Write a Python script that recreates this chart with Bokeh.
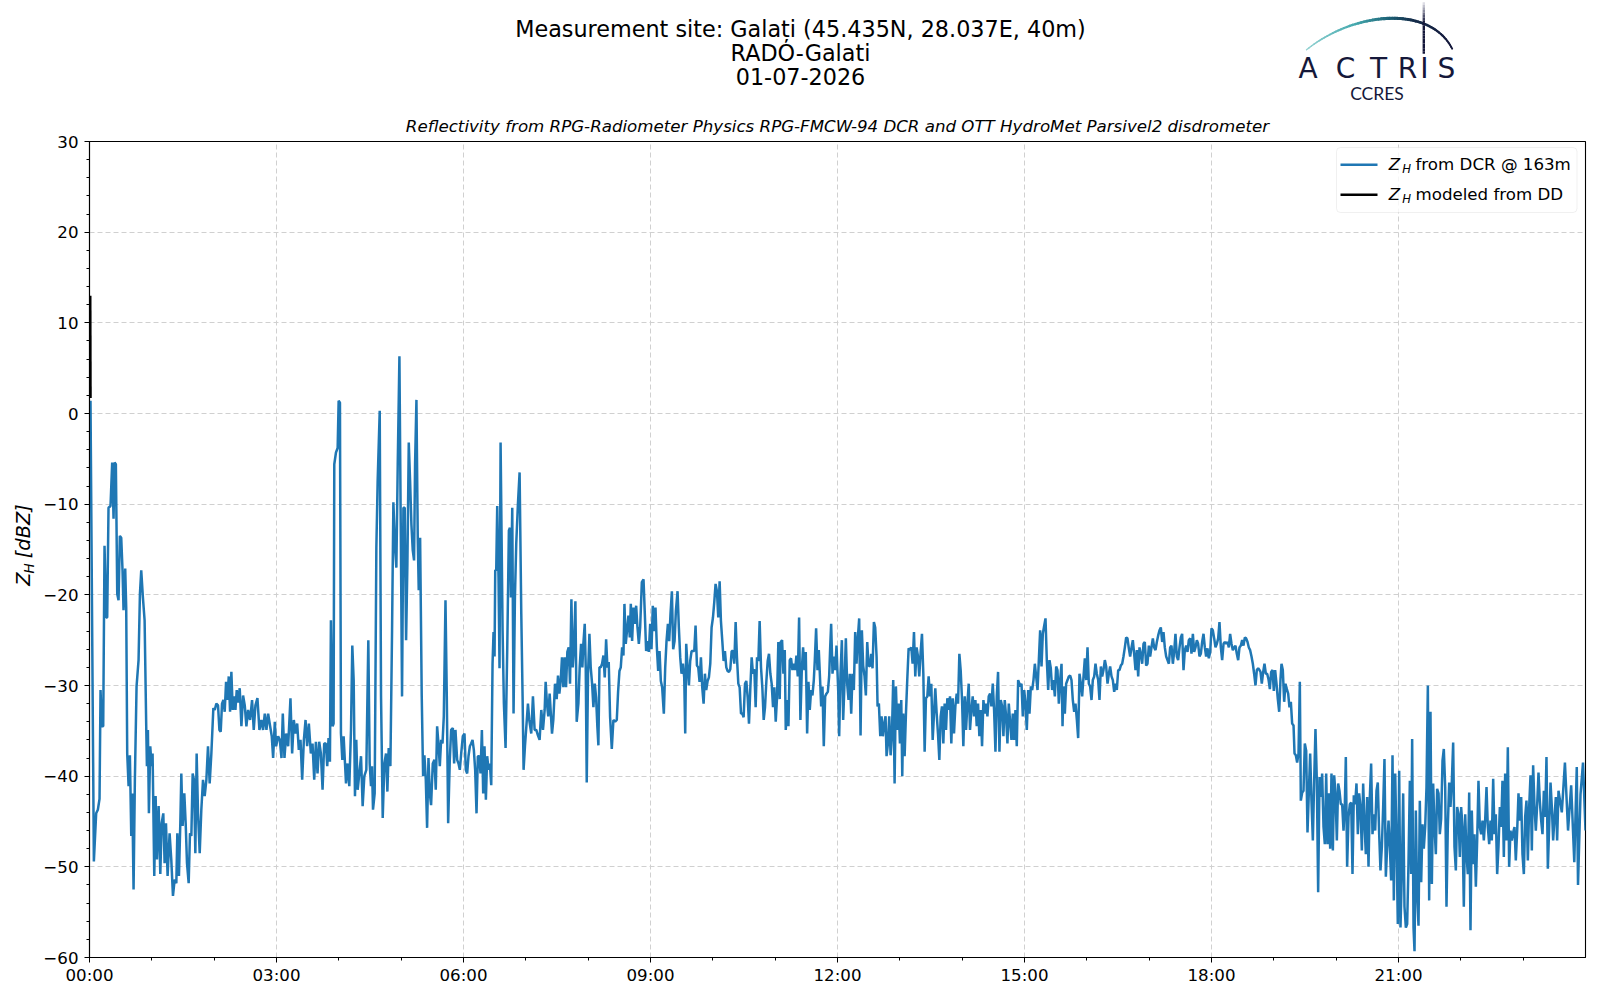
import numpy as np
from math import pi
from bokeh.plotting import figure
from bokeh.models import Range1d, FixedTicker, Label, BoxAnnotation
from bokeh.layouts import column, row
from bokeh.embed import file_html
from bokeh.resources import INLINE
from bokeh.core.properties import value

FONT = "DejaVu Sans"
NAVY = "#15183a"
BLUE = "#1f77b4"

title_lines = ["Measurement site: Galați (45.435N, 28.037E, 40m)", "RADO-Galati", "01-07-2026"]
subtitle = "Reflectivity from RPG-Radiometer Physics RPG-FMCW-94 DCR and OTT HydroMet Parsivel2 disdrometer"
legend_labels = ["from DCR @ 163m", "modeled from DD"]

x_major = [0, 3, 6, 9, 12, 15, 18, 21]
x_minor = [1, 2, 4, 5, 7, 8, 10, 11, 13, 14, 16, 17, 19, 20, 22, 23]
x_tick_labels = ["00:00", "03:00", "06:00", "09:00", "12:00", "15:00", "18:00", "21:00"]
y_major = [-60, -50, -40, -30, -20, -10, 0, 10, 20, 30]
y_minor = [v for v in range(-60, 31, 2) if v % 10 != 0]

# Z_H modeled from disdrometer (hours, dBZ)
dd_time = [0.012, 0.016]
dd_zh = [13.0, 1.7]

# Z_H from DCR @ 163m: (hours, dBZ)
dcr_00_04 = [(0.016,1.4),(0.070,-49.4),(0.107,-44.1),(0.134,-43.7),(0.161,-42.5),(0.177,-30.5),(0.198,-34.5),(0.220,-34.5),(0.241,-14.6),(0.268,-22.5),(0.284,-22.5),(0.305,-10.4),(0.337,-10.2),(0.364,-5.4),(0.386,-11.6),(0.402,-5.4),(0.423,-5.6),(0.445,-19.9),(0.466,-20.6),(0.487,-13.5),(0.509,-13.7),(0.530,-17.3),(0.546,-21.7),(0.573,-17.1),(0.589,-21.4),(0.605,-37.5),(0.627,-41.1),(0.648,-37.7),(0.670,-46.6),(0.686,-41.9),(0.707,-52.5),(0.728,-40.4),(0.755,-30.1),(0.787,-27.2),(0.809,-19.9),(0.830,-17.3),(0.857,-20.3),(0.884,-22.8),(0.911,-34.9),(0.921,-38.9),(0.937,-34.9),(0.953,-44.1),(0.975,-36.7),(0.996,-38.9),(1.012,-37.5),(1.039,-51.0),(1.061,-42.2),(1.082,-49.2),(1.109,-43.3),(1.136,-50.8),(1.157,-45.2),(1.184,-44.1),(1.205,-49.6),(1.227,-45.2),(1.253,-51.0),(1.285,-46.3),(1.312,-49.2),(1.339,-53.2),(1.366,-51.4),(1.393,-51.8),(1.409,-46.3),(1.435,-51.0),(1.457,-45.2),(1.473,-39.7),(1.494,-45.5),(1.521,-41.9),(1.543,-45.2),(1.564,-49.6),(1.591,-51.8),(1.612,-46.3),(1.634,-46.6),(1.655,-39.7),(1.676,-40.4),(1.698,-48.5),(1.719,-37.5),(1.741,-44.1),(1.768,-48.5),(1.794,-43.7),(1.821,-40.4),(1.848,-42.2),(1.875,-40.4),(1.901,-36.7),(1.928,-40.8),(1.955,-37.5),(1.987,-32.5),(2.009,-32.7),(2.035,-32.0),(2.062,-32.2),(2.084,-34.9),(2.105,-35.1),(2.126,-32.0),(2.148,-31.6),(2.169,-32.9),(2.191,-29.6),(2.212,-31.6),(2.234,-29.0),(2.255,-32.9),(2.276,-28.5),(2.298,-32.7),(2.319,-31.2),(2.341,-32.7),(2.362,-30.5),(2.384,-31.9),(2.410,-30.3),(2.437,-34.5),(2.464,-31.1),(2.491,-32.2),(2.517,-34.5),(2.544,-32.7),(2.576,-33.8),(2.608,-31.6),(2.635,-34.9),(2.662,-32.2),(2.694,-31.4),(2.726,-34.9),(2.758,-33.8),(2.785,-34.9),(2.812,-33.1),(2.839,-34.9),(2.866,-33.1),(2.898,-34.5),(2.924,-35.6),(2.946,-38.0),(2.973,-34.0),(2.994,-36.7),(3.026,-35.6),(3.053,-36.0),(3.080,-38.0),(3.101,-33.1),(3.128,-38.0),(3.155,-35.3),(3.187,-36.7),(3.224,-31.4),(3.251,-37.5),(3.278,-33.8),(3.305,-35.3),(3.332,-34.2),(3.358,-37.1),(3.385,-36.0),(3.412,-40.4),(3.439,-36.0),(3.466,-33.8),(3.492,-36.7),(3.519,-34.2),(3.551,-37.5),(3.578,-36.4),(3.605,-40.4),(3.632,-36.2),(3.658,-39.7),(3.685,-36.2),(3.712,-37.5),(3.739,-41.5),(3.765,-36.4),(3.792,-36.4),(3.814,-38.9),(3.835,-35.8),(3.857,-38.4),(3.873,-22.8)]

dcr_04_07 = [(3.900,-34.5),(3.916,-34.2),(3.927,-5.6),(3.954,-4.3),(3.981,-3.8),(3.997,1.4),(4.018,1.2),(4.034,-35.3),(4.056,-38.2),(4.077,-35.6),(4.099,-38.6),(4.115,-40.8),(4.141,-38.6),(4.168,-41.1),(4.195,-34.9),(4.216,-25.6),(4.238,-29.4),(4.259,-42.2),(4.280,-36.0),(4.302,-41.5),(4.329,-39.7),(4.356,-37.8),(4.382,-43.3),(4.409,-40.0),(4.441,-39.3),(4.473,-25.0),(4.495,-38.6),(4.516,-41.1),(4.532,-38.9),(4.548,-43.7),(4.575,-41.9),(4.602,-14.8),(4.623,-7.4),(4.656,0.3),(4.677,-31.2),(4.704,-44.6),(4.731,-38.6),(4.757,-37.5),(4.779,-41.7),(4.800,-36.9),(4.827,-38.9),(4.854,-23.9),(4.875,-9.8),(4.902,-14.8),(4.923,-17.0),(4.945,-5.6),(4.972,6.3),(4.998,-16.6),(5.014,-31.2),(5.036,-10.4),(5.057,-10.4),(5.079,-25.0),(5.100,-16.6),(5.122,-3.2),(5.143,-7.4),(5.164,-12.2),(5.186,-15.1),(5.207,-16.2),(5.223,-5.6),(5.245,1.5),(5.266,-13.7),(5.282,-19.5),(5.304,-13.7),(5.330,-31.2),(5.352,-40.0),(5.373,-37.7),(5.395,-40.4),(5.416,-45.7),(5.438,-38.0),(5.459,-41.9),(5.480,-43.2),(5.507,-38.6),(5.534,-38.2),(5.555,-41.5),(5.577,-34.5),(5.598,-36.4),(5.620,-38.9),(5.641,-36.0),(5.663,-36.4),(5.684,-33.4),(5.711,-20.6),(5.732,-31.2),(5.754,-45.2),(5.780,-38.2),(5.802,-34.9),(5.829,-34.7),(5.850,-38.6),(5.871,-34.9),(5.898,-38.2),(5.920,-38.6),(5.941,-39.3),(5.963,-37.5),(5.989,-35.6),(6.016,-35.3),(6.037,-39.3),(6.059,-39.7),(6.080,-37.8),(6.102,-36.7),(6.123,-36.4),(6.145,-36.0),(6.166,-37.1),(6.187,-39.3),(6.209,-44.1),(6.230,-37.8),(6.252,-37.8),(6.273,-39.7),(6.295,-34.9),(6.316,-41.9),(6.337,-36.7),(6.359,-42.6),(6.380,-37.8),(6.402,-39.3),(6.423,-38.6),(6.445,-41.0),(6.466,-27.6),(6.482,-24.1),(6.498,-26.8),(6.509,-17.3),(6.525,-17.3),(6.541,-10.2),(6.562,-18.1),(6.578,-28.1),(6.595,-3.2),(6.627,-23.9),(6.648,-32.0),(6.675,-36.9),(6.702,-25.8),(6.728,-12.9),(6.745,-12.6),(6.761,-20.3),(6.782,-10.4),(6.803,-33.1),(6.825,-20.3),(6.846,-14.4),(6.873,-10.0),(6.900,-6.5),(6.927,-22.1),(6.948,-31.2),(6.964,-39.3),(6.986,-36.7),(7.034,-32.0),(7.055,-33.8),(7.087,-35.3),(7.114,-31.2),(7.141,-34.9),(7.168,-34.9),(7.194,-35.5),(7.221,-36.0),(7.248,-32.7),(7.275,-34.9),(7.302,-32.7),(7.318,-29.6),(7.339,-32.0),(7.360,-33.4),(7.382,-30.9)]

dcr_07_11 = [(7.420,-35.3),(7.441,-33.8),(7.468,-29.8),(7.495,-31.5),(7.516,-28.9),(7.538,-30.9),(7.559,-29.5),(7.580,-26.9),(7.602,-30.2),(7.623,-26.9),(7.645,-30.2),(7.666,-26.3),(7.688,-25.8),(7.709,-29.8),(7.731,-20.5),(7.752,-28.0),(7.773,-25.8),(7.795,-20.7),(7.816,-34.0),(7.843,-32.0),(7.864,-28.0),(7.886,-25.4),(7.907,-28.0),(7.923,-25.4),(7.945,-23.2),(7.961,-28.0),(7.977,-40.7),(7.998,-28.7),(8.020,-24.3),(8.041,-28.0),(8.063,-29.8),(8.084,-32.4),(8.106,-29.8),(8.127,-31.3),(8.148,-34.6),(8.164,-36.6),(8.181,-28.0),(8.202,-28.0),(8.223,-27.6),(8.245,-26.7),(8.266,-29.1),(8.288,-24.9),(8.309,-28.0),(8.330,-27.4),(8.352,-33.5),(8.379,-37.0),(8.405,-33.8),(8.432,-34.0),(8.459,-33.8),(8.480,-30.7),(8.502,-28.4),(8.523,-28.0),(8.545,-25.8),(8.566,-26.7),(8.582,-21.0),(8.603,-25.4),(8.625,-23.8),(8.646,-22.3),(8.668,-24.7),(8.684,-21.0),(8.705,-25.1),(8.727,-21.4),(8.748,-23.2),(8.770,-21.2),(8.791,-23.6),(8.813,-25.4),(8.834,-23.6),(8.861,-18.6),(8.888,-18.3),(8.909,-22.1),(8.930,-26.2),(8.952,-25.1),(8.973,-26.3),(8.995,-23.2),(9.016,-26.0),(9.037,-21.2),(9.059,-24.0),(9.080,-21.4),(9.102,-25.8),(9.123,-28.4),(9.145,-26.2),(9.166,-29.5),(9.187,-30.2),(9.214,-33.1),(9.236,-28.0),(9.257,-25.1),(9.279,-23.2),(9.300,-25.1),(9.321,-22.1),(9.343,-19.6),(9.364,-26.0),(9.386,-25.1),(9.407,-21.8),(9.434,-19.6),(9.455,-23.6),(9.477,-26.9),(9.498,-28.7),(9.520,-27.6),(9.541,-29.1),(9.557,-35.3),(9.573,-25.4),(9.595,-28.0),(9.616,-30.0),(9.637,-27.3),(9.659,-26.2),(9.680,-26.2),(9.702,-26.2),(9.723,-23.4),(9.745,-27.8),(9.766,-28.0),(9.787,-29.6),(9.809,-26.9),(9.830,-30.2),(9.852,-32.0),(9.873,-28.7),(9.894,-30.5),(9.916,-29.5),(9.937,-29.1),(9.959,-27.6),(9.980,-23.6),(10.002,-22.5),(10.023,-20.8),(10.044,-18.8),(10.066,-19.6),(10.087,-22.5),(10.109,-18.5),(10.130,-22.9),(10.152,-25.1),(10.173,-27.3),(10.194,-26.2),(10.216,-28.0),(10.237,-28.4),(10.259,-28.5),(10.280,-28.2),(10.302,-26.2),(10.323,-26.2),(10.344,-27.6),(10.366,-23.0),(10.387,-26.9),(10.409,-29.8),(10.430,-30.2),(10.452,-33.1),(10.473,-33.1),(10.494,-33.5),(10.516,-29.8),(10.537,-29.5),(10.559,-31.3),(10.580,-34.2),(10.602,-30.2),(10.623,-26.9),(10.644,-28.7),(10.666,-28.2),(10.687,-32.4),(10.709,-26.9),(10.730,-27.3),(10.751,-22.9),(10.773,-28.0),(10.794,-30.2),(10.816,-33.8),(10.837,-32.4),(10.859,-29.5),(10.880,-27.3),(10.901,-26.5),(10.923,-28.7),(10.944,-29.8),(10.966,-32.4),(10.987,-30.2),(11.009,-34.0),(11.030,-31.3),(11.051,-25.2),(11.073,-31.5)]

dcr_11_15 = [(11.089,-25.2),(11.111,-25.0),(11.132,-28.7),(11.154,-26.1),(11.170,-34.9),(11.191,-31.6),(11.213,-34.5),(11.234,-27.2),(11.255,-27.0),(11.277,-28.3),(11.298,-27.6),(11.320,-28.3),(11.341,-26.7),(11.363,-29.0),(11.384,-22.5),(11.405,-33.8),(11.427,-28.3),(11.448,-25.8),(11.470,-28.3),(11.491,-26.3),(11.513,-35.3),(11.534,-29.6),(11.555,-32.7),(11.577,-30.5),(11.598,-31.1),(11.620,-29.4),(11.636,-27.2),(11.657,-23.7),(11.679,-28.3),(11.700,-26.1),(11.721,-29.4),(11.738,-32.3),(11.759,-30.1),(11.780,-36.7),(11.802,-31.2),(11.823,-30.9),(11.845,-30.7),(11.866,-29.0),(11.882,-25.9),(11.898,-23.2),(11.920,-28.7),(11.941,-26.8),(11.963,-28.3),(11.984,-25.6),(12.011,-30.5),(12.027,-35.6),(12.048,-28.7),(12.070,-25.0),(12.091,-33.8),(12.112,-29.8),(12.134,-24.8),(12.155,-29.8),(12.177,-31.6),(12.198,-28.7),(12.220,-33.1),(12.241,-28.7),(12.262,-30.5),(12.284,-24.1),(12.305,-27.6),(12.327,-24.7),(12.348,-22.6),(12.370,-35.5),(12.391,-23.9),(12.412,-27.8),(12.434,-29.0),(12.455,-31.1),(12.477,-25.2),(12.498,-27.8),(12.520,-27.9),(12.541,-26.5),(12.562,-28.1),(12.584,-23.0),(12.605,-23.6),(12.627,-26.8),(12.643,-32.3),(12.664,-32.0),(12.686,-35.6),(12.707,-33.4),(12.728,-35.6),(12.750,-34.2),(12.771,-33.4),(12.787,-37.8),(12.809,-36.4),(12.830,-33.4),(12.852,-37.7),(12.873,-35.3),(12.894,-29.4),(12.916,-40.8),(12.937,-30.1),(12.959,-34.9),(12.980,-32.0),(13.002,-36.4),(13.023,-31.6),(13.039,-40.0),(13.055,-33.1),(13.077,-37.8),(13.098,-33.1),(13.119,-29.4),(13.141,-25.9),(13.162,-26.1),(13.184,-25.8),(13.205,-27.6),(13.227,-24.1),(13.248,-29.0),(13.269,-25.8),(13.291,-26.8),(13.312,-29.0),(13.334,-26.3),(13.355,-24.3),(13.377,-28.7),(13.398,-37.3),(13.419,-31.4),(13.441,-31.2),(13.462,-29.0),(13.484,-31.2),(13.505,-29.8),(13.527,-36.0),(13.548,-33.1),(13.569,-30.3),(13.591,-33.1),(13.612,-35.3),(13.634,-38.2),(13.655,-33.4),(13.676,-32.3),(13.698,-36.4),(13.719,-32.0),(13.741,-34.9),(13.762,-31.4),(13.784,-32.7),(13.805,-31.2),(13.826,-36.4),(13.848,-31.4),(13.869,-35.3),(13.891,-32.3),(13.912,-30.9),(13.934,-32.0),(13.955,-26.5),(13.976,-28.3),(13.998,-31.6),(14.019,-36.7),(14.041,-31.2),(14.062,-34.9),(14.084,-32.0),(14.105,-29.8),(14.126,-34.9),(14.148,-32.7),(14.169,-31.2),(14.191,-33.4),(14.212,-31.6),(14.234,-34.5),(14.255,-32.0),(14.276,-35.6),(14.298,-32.7),(14.319,-36.7),(14.341,-31.6),(14.362,-33.1),(14.384,-32.0),(14.405,-33.4),(14.426,-31.2),(14.448,-30.9),(14.469,-32.3),(14.491,-29.8),(14.512,-32.7),(14.534,-37.3),(14.555,-31.2),(14.576,-28.5),(14.598,-37.3),(14.619,-31.6),(14.641,-32.3),(14.662,-35.6),(14.683,-31.6),(14.705,-33.4),(14.726,-36.4),(14.748,-32.0),(14.769,-34.0),(14.791,-36.0),(14.812,-33.1),(14.833,-36.0),(14.855,-32.7),(14.876,-36.7),(14.898,-29.4),(14.919,-29.8)]

dcr_15_19 = [(14.930,-30.1),(14.952,-29.8),(14.973,-33.4),(14.995,-30.5),(15.016,-32.0),(15.037,-34.9),(15.059,-30.5),(15.080,-33.1),(15.102,-30.1),(15.123,-30.5),(15.144,-29.4),(15.166,-27.6),(15.187,-29.0),(15.209,-30.5),(15.230,-27.2),(15.251,-23.9),(15.273,-27.9),(15.294,-24.3),(15.316,-23.4),(15.337,-22.6),(15.358,-27.2),(15.380,-30.5),(15.401,-27.2),(15.422,-28.1),(15.444,-30.5),(15.465,-29.4),(15.487,-31.2),(15.508,-27.9),(15.529,-28.3),(15.551,-32.0),(15.572,-29.4),(15.594,-27.6),(15.610,-34.5),(15.626,-30.1),(15.647,-33.1),(15.668,-29.8),(15.690,-29.4),(15.711,-29.0),(15.733,-28.9),(15.754,-29.4),(15.775,-31.6),(15.797,-32.9),(15.818,-32.0),(15.840,-33.8),(15.861,-35.8),(15.882,-28.7),(15.904,-29.8),(15.925,-31.2),(15.947,-29.0),(15.968,-27.0),(15.989,-29.4),(16.011,-25.8),(16.032,-29.8),(16.053,-30.1),(16.075,-31.6),(16.096,-29.4),(16.118,-29.0),(16.139,-27.6),(16.160,-28.7),(16.182,-29.4),(16.203,-31.6),(16.225,-27.9),(16.246,-29.0),(16.267,-28.3),(16.289,-27.2),(16.310,-27.9),(16.332,-29.8),(16.353,-28.7),(16.374,-27.9),(16.396,-29.0),(16.417,-29.4),(16.439,-30.7),(16.460,-29.8),(16.481,-30.5),(16.503,-28.3),(16.524,-28.3),(16.545,-27.8),(16.567,-27.6),(16.588,-26.8),(16.610,-25.8),(16.631,-24.7),(16.652,-24.8),(16.674,-25.9),(16.695,-26.8),(16.717,-25.8),(16.738,-25.0),(16.759,-26.5),(16.781,-28.3),(16.802,-26.1),(16.824,-29.0),(16.845,-25.8),(16.866,-26.5),(16.888,-27.6),(16.909,-25.4),(16.930,-25.2),(16.952,-27.8),(16.973,-27.6),(16.995,-25.6),(17.016,-26.8),(17.037,-25.8),(17.059,-24.8),(17.080,-25.8),(17.102,-26.1),(17.123,-25.2),(17.144,-24.5),(17.166,-23.9),(17.187,-23.6),(17.209,-25.2),(17.230,-24.1),(17.251,-25.8),(17.273,-26.8),(17.294,-27.2),(17.316,-27.6),(17.337,-25.8),(17.358,-25.6),(17.380,-27.6),(17.401,-26.3),(17.422,-24.3),(17.444,-26.8),(17.465,-27.2),(17.487,-25.8),(17.508,-24.7),(17.529,-24.3),(17.551,-28.3),(17.572,-26.1),(17.594,-25.6),(17.615,-26.3),(17.636,-25.0),(17.658,-24.8),(17.679,-26.5),(17.701,-24.3),(17.722,-26.3),(17.743,-25.8),(17.765,-25.0),(17.786,-25.4),(17.807,-26.8),(17.829,-26.5),(17.850,-25.2),(17.872,-24.3),(17.893,-25.8),(17.914,-26.8),(17.936,-25.9),(17.957,-27.0),(17.979,-26.3),(18.000,-23.7),(18.021,-23.9),(18.043,-24.8),(18.064,-25.8),(18.086,-25.4),(18.107,-24.8),(18.128,-23.0),(18.150,-25.8),(18.171,-27.2),(18.193,-25.4),(18.214,-25.2),(18.235,-25.4),(18.257,-25.2),(18.278,-25.8),(18.299,-24.3),(18.321,-25.4),(18.342,-26.1),(18.364,-25.8),(18.385,-25.6),(18.406,-26.5),(18.428,-27.2),(18.449,-25.8),(18.471,-25.6),(18.492,-25.0),(18.513,-25.6),(18.535,-24.7),(18.556,-24.8),(18.578,-25.2),(18.599,-25.8),(18.620,-26.1),(18.642,-26.8),(18.663,-27.6),(18.684,-28.7),(18.706,-30.0),(18.727,-28.3),(18.749,-28.1),(18.770,-28.3)]

dcr_19_24 = [(18.786,-28.5),(18.807,-29.8),(18.829,-28.5),(18.850,-27.6),(18.872,-28.7),(18.893,-28.7),(18.914,-29.3),(18.936,-30.4),(18.957,-28.5),(18.979,-28.3),(19.000,-30.6),(19.021,-28.3),(19.043,-29.8),(19.064,-31.5),(19.086,-32.9),(19.107,-29.3),(19.123,-27.6),(19.144,-28.3),(19.166,-31.8),(19.187,-29.8),(19.209,-30.4),(19.230,-30.9),(19.251,-32.4),(19.273,-31.8),(19.294,-34.2),(19.316,-34.4),(19.332,-37.5),(19.353,-37.7),(19.374,-38.5),(19.396,-37.5),(19.417,-29.6),(19.433,-42.7),(19.455,-41.8),(19.476,-41.6),(19.497,-36.4),(19.519,-37.2),(19.540,-46.2),(19.561,-41.9),(19.583,-37.5),(19.604,-42.7),(19.626,-47.1),(19.647,-40.5),(19.668,-34.8),(19.690,-40.5),(19.711,-52.8),(19.733,-40.1),(19.754,-42.3),(19.775,-39.7),(19.797,-45.6),(19.818,-47.5),(19.840,-39.7),(19.861,-47.5),(19.882,-41.9),(19.904,-48.0),(19.925,-39.7),(19.947,-48.2),(19.968,-39.9),(19.989,-41.9),(20.011,-47.1),(20.032,-40.8),(20.053,-41.6),(20.075,-43.1),(20.096,-43.1),(20.118,-46.0),(20.139,-43.2),(20.155,-37.9),(20.176,-50.0),(20.198,-44.5),(20.219,-43.1),(20.241,-42.9),(20.262,-50.8),(20.283,-42.1),(20.305,-43.1),(20.326,-40.8),(20.348,-46.4),(20.369,-41.9),(20.390,-43.4),(20.412,-48.2),(20.433,-40.8),(20.455,-45.3),(20.476,-48.6),(20.497,-42.3),(20.519,-50.0),(20.540,-42.3),(20.561,-38.6),(20.583,-46.4),(20.604,-44.2),(20.626,-46.0),(20.647,-41.6),(20.668,-40.7),(20.690,-46.4),(20.711,-50.4),(20.733,-47.8),(20.754,-43.4),(20.775,-38.1),(20.797,-51.1),(20.818,-47.8),(20.840,-44.9),(20.861,-47.8),(20.882,-51.5),(20.904,-37.7),(20.925,-53.7),(20.947,-39.7),(20.968,-47.1),(20.989,-56.3),(21.011,-39.4),(21.032,-56.7),(21.053,-50.8),(21.075,-41.9),(21.096,-54.4),(21.118,-56.7),(21.139,-56.3),(21.160,-49.7),(21.182,-40.5),(21.203,-50.8),(21.219,-35.9),(21.241,-56.7),(21.257,-59.3),(21.278,-43.8),(21.299,-53.0),(21.321,-56.5),(21.342,-42.7),(21.364,-51.7),(21.385,-45.3),(21.406,-48.0),(21.428,-45.6),(21.449,-41.2),(21.471,-30.0),(21.492,-53.7),(21.513,-32.9),(21.535,-51.9),(21.556,-40.8),(21.578,-45.6),(21.599,-48.6),(21.620,-41.4),(21.642,-41.9),(21.663,-46.4),(21.684,-44.7),(21.706,-38.3),(21.727,-37.0),(21.749,-41.2),(21.770,-54.4),(21.791,-45.6),(21.813,-40.7),(21.834,-43.4),(21.856,-40.5),(21.877,-36.3),(21.898,-47.8),(21.920,-50.4),(21.941,-43.4),(21.963,-44.2),(21.984,-48.9),(22.005,-43.4),(22.027,-45.6),(22.048,-54.4),(22.070,-44.2),(22.091,-48.6),(22.112,-50.8),(22.134,-41.8),(22.155,-57.0),(22.176,-43.8),(22.198,-49.7),(22.219,-46.4),(22.241,-52.2),(22.262,-47.1),(22.283,-40.5),(22.305,-45.6),(22.326,-46.4),(22.348,-44.9),(22.369,-47.1),(22.390,-44.9),(22.412,-41.2),(22.433,-45.6),(22.455,-47.5),(22.476,-44.9),(22.497,-47.1),(22.519,-40.3),(22.540,-46.4),(22.561,-44.2),(22.583,-50.8),(22.604,-47.8),(22.626,-43.4),(22.647,-45.6),(22.668,-40.5),(22.690,-48.9),(22.711,-39.7),(22.733,-47.1),(22.754,-36.8),(22.775,-50.0),(22.797,-46.0),(22.818,-47.1),(22.840,-46.2),(22.861,-45.6),(22.882,-49.3),(22.904,-46.0),(22.925,-41.9),(22.947,-44.9),(22.968,-42.3),(22.989,-48.6),(23.011,-50.8),(23.032,-44.5),(23.053,-42.7),(23.075,-49.3),(23.096,-43.4),(23.118,-39.9),(23.139,-48.2),(23.160,-38.8),(23.182,-43.4),(23.203,-46.0),(23.225,-43.1),(23.246,-39.6),(23.267,-42.7),(23.289,-44.9),(23.310,-46.4),(23.332,-41.6),(23.353,-44.5),(23.374,-37.9),(23.396,-50.2),(23.417,-45.6),(23.439,-40.7),(23.460,-43.4),(23.481,-47.1),(23.503,-44.5),(23.524,-42.3),(23.545,-47.1),(23.567,-41.6),(23.620,-44.0),(23.670,-38.5),(23.720,-46.0),(23.770,-41.0),(23.820,-49.5),(23.860,-39.0),(23.880,-52.0),(23.920,-42.0),(23.960,-38.5),(24.000,-46.0)]

segments = [dcr_00_04, dcr_04_07, dcr_07_11, dcr_11_15, dcr_15_19, dcr_19_24]
dcr_time = [t for seg in segments for t, _ in seg]
dcr_zh = [z for seg in segments for _, z in seg]

# ---------------- header (titles + logo), page pixel coordinates ----------------
hdr = figure(width=1600, height=108, x_range=Range1d(0, 1600), y_range=Range1d(108, 0),
             x_axis_location=None, y_axis_location=None, min_border=0,
             output_backend="svg", toolbar_location=None)
hdr.grid.visible = False
hdr.outline_line_color = None
hdr.background_fill_color = "white"
hdr.border_fill_color = "white"

hdr.text(x=[800, 800, 800], y=[28.6, 52.0, 75.5], text=title_lines,
         text_font=value(FONT), text_font_size="22.3px", text_color="black",
         text_align="center", text_baseline="middle")

# logo arc (cubic bezier sampled, colour gradient)
s = np.linspace(0, 1, 61)
P = np.array([[1306.0, 49.3], [1355.0, 10.0], [1430.0, 5.0], [1451.7, 48.3]])
bx = (1-s)**3*P[0, 0] + 3*(1-s)**2*s*P[1, 0] + 3*(1-s)*s**2*P[2, 0] + s**3*P[3, 0]
by = (1-s)**3*P[0, 1] + 3*(1-s)**2*s*P[1, 1] + 3*(1-s)*s**2*P[2, 1] + s**3*P[3, 1]
sm = 0.5*(s[:-1] + s[1:])
stops = [0.0, 0.3, 0.5, 0.65, 1.0]
rs = [150, 70, 30, 22, 20]
gs = [212, 170, 100, 45, 23]
bs = [212, 175, 120, 75, 58]
arc_cols = ["#%02x%02x%02x" % (int(np.interp(v, stops, rs)), int(np.interp(v, stops, gs)), int(np.interp(v, stops, bs))) for v in sm]
arc_w = np.interp(sm, [0, 0.5, 1], [1.3, 3.2, 1.8])
hdr.segment(x0=bx[:-1], y0=by[:-1], x1=bx[1:], y1=by[1:], line_color=arc_cols,
            line_width=arc_w, line_cap="round")
vy = np.linspace(1.7, 53.3, 21)
vm = 0.5*(vy[:-1] + vy[1:])
v_cols = ["#%02x%02x%02x" % (int(np.interp(v, [1.7, 22], [235, 20])), int(np.interp(v, [1.7, 22], [235, 23])), int(np.interp(v, [1.7, 22], [240, 58]))) for v in vm]
hdr.segment(x0=[1423.3]*20, y0=vy[:-1], x1=[1423.3]*20, y1=vy[1:], line_color=v_cols, line_width=2.4)
hdr.text(x=[1307.5, 1345.0, 1378.0, 1407.0, 1424.0, 1446.0], y=[68.0]*6,
         text=["A", "C", "T", "R", "I", "S"], text_font=value(FONT), text_font_size="28px",
         text_color=NAVY, text_align="center", text_baseline="middle")
hdr.text(x=[1376.5], y=[92.6], text=["CCRES"], text_font=value("Lato"), text_font_size="17.5px",
         text_color=NAVY, text_align="center", text_baseline="middle")

# ---------------- y-axis label strip (left of the plot) ----------------
MAIN_H = 33 + 816 + 40
ystrip = figure(width=40, height=MAIN_H, x_range=Range1d(0, 40), y_range=Range1d(0, MAIN_H),
                x_axis_location=None, y_axis_location=None, min_border=0,
                output_backend="svg", toolbar_location=None)
ystrip.grid.visible = False
ystrip.outline_line_color = None
ystrip.background_fill_color = "white"
ystrip.border_fill_color = "white"
BOT = 108 + MAIN_H  # page y of the strip's bottom edge
ystrip.text(x=[22.5, 22.5], y=[BOT - 592, BOT - 562], text=["Z", "[dBZ]"], angle=pi/2,
            text_font=value(FONT), text_font_size="19.4px", text_font_style="italic",
            text_color="black", text_align="left", text_baseline="middle")
ystrip.text(x=[28.0], y=[BOT - 578.7], text=["H"], angle=pi/2,
            text_font=value(FONT), text_font_size="13.6px", text_font_style="italic",
            text_color="black", text_align="left", text_baseline="middle")

# ---------------- main plot ----------------
p = figure(frame_width=1496, frame_height=816, x_range=Range1d(0, 24), y_range=Range1d(-60, 30),
           min_border_left=48, min_border_right=16, min_border_top=33, min_border_bottom=40,
           output_backend="svg", toolbar_location=None)
p.background_fill_color = "white"
p.border_fill_color = "white"
p.outline_line_color = "black"
p.outline_line_width = 1.1

p.title.text = subtitle
p.title.align = "center"
p.title.text_font = FONT
p.title.text_font_size = "16.67px"
p.title.text_font_style = "italic"
p.title.text_color = "black"
p.title.standoff = 11
p.title.offset = 0

p.xaxis.ticker = FixedTicker(ticks=x_major, minor_ticks=x_minor)
p.xaxis.major_label_overrides = {t: lab for t, lab in zip(x_major, x_tick_labels)}
p.yaxis.ticker = FixedTicker(ticks=y_major, minor_ticks=y_minor)
for ax in (p.xaxis, p.yaxis):
    ax.axis_line_color = "black"
    ax.axis_line_width = 1.1
    ax.major_tick_line_color = "black"
    ax.minor_tick_line_color = "black"
    ax.major_tick_in = 0
    ax.major_tick_out = 5
    ax.minor_tick_in = 0
    ax.minor_tick_out = 3
    ax.major_label_text_font = FONT
    ax.major_label_text_font_size = "16.67px"
    ax.major_label_text_color = "black"
p.xaxis.major_label_standoff = 3
p.yaxis.major_label_standoff = 6

for g in (p.xgrid, p.ygrid):
    g.grid_line_color = "#d0d0d0"
    g.grid_line_dash = "5 3"
    g.grid_line_width = 1

p.line(dcr_time, dcr_zh, line_color=BLUE, line_width=2.5)
p.line(dd_time, dd_zh, line_color="black", line_width=2.5)

def lab(x, y, text, size, style="normal"):
    return Label(x=x, y=y, x_units="canvas", y_units="canvas", text=text,
                 text_font=FONT, text_font_size=size, text_font_style=style, text_color="black",
                 text_align="left", text_baseline="middle")

# legend (canvas coords of the main figure: x = page x - 40, y = page y - 108)
OX, OY = 40, 108
p.add_layout(BoxAnnotation(left=1336-OX, right=1576.5-OX, top=147-OY, bottom=212-OY,
                           left_units="canvas", right_units="canvas", top_units="canvas", bottom_units="canvas",
                           fill_color="white", fill_alpha=0.8, line_color="#cccccc", line_width=1,
                           border_radius=4))
for i, (col, txt) in enumerate(zip([BLUE, "black"], legend_labels)):
    dy = 30*i
    p.add_layout(BoxAnnotation(left=1340-OX, right=1377-OX, top=163.1+dy-OY, bottom=165.5+dy-OY,
                               left_units="canvas", right_units="canvas", top_units="canvas", bottom_units="canvas",
                               fill_color=col, fill_alpha=1, line_color=None))
    p.add_layout(lab(1388.3-OX, 164.3+dy-OY, "Z", "16.67px", "italic"))
    p.add_layout(lab(1401.7-OX, 168.3+dy-OY, "H", "11.7px", "italic"))
    p.add_layout(lab(1415.0-OX, 164.3+dy-OY, txt, "16.67px"))

page = column(hdr, row(ystrip, p, spacing=0), spacing=0)
open("out.html", "w").write(file_html(page, INLINE))
